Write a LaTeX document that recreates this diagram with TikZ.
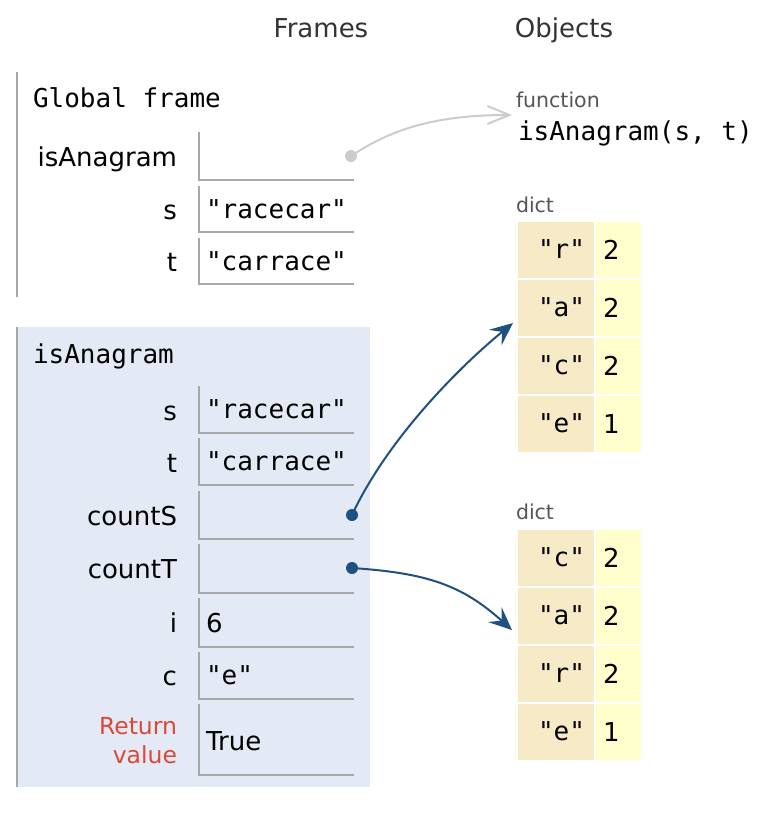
\documentclass[tikz,border=0pt]{standalone}
\usepackage{fontspec}
\setmainfont{DejaVu Sans}
\setsansfont{DejaVu Sans}
\setmonofont{DejaVu Sans Mono}
\usetikzlibrary{arrows.meta}
\definecolor{framebg}{RGB}{228,234,245}
\definecolor{gridgray}{RGB}{168,168,168}
\definecolor{keybg}{RGB}{246,235,198}
\definecolor{valbg}{RGB}{255,255,206}
\definecolor{ptblue}{RGB}{31,80,127}
\definecolor{retred}{RGB}{218,72,58}
\definecolor{typegray}{RGB}{85,85,85}
\definecolor{ptrgray}{RGB}{204,204,204}
\definecolor{headgray}{RGB}{51,51,51}
\begin{document}
\begin{tikzpicture}[x=1pt,y=-1pt,
  every node/.style={inner sep=0pt, outer sep=0pt},
  sanstxt/.style={font=\fontsize{26}{30}\selectfont},
  monotxt/.style={font=\fontsize{26}{30}\selectfont\ttfamily},
  header/.style={sanstxt, text=headgray, anchor=base},
  varname/.style={sanstxt, anchor=base east},
  strval/.style={monotxt, anchor=base west},
  numval/.style={sanstxt, anchor=base west},
  typelbl/.style={font=\fontsize{20.5}{24}\selectfont, text=typegray, anchor=base west},
  retlbl/.style={font=\fontsize{23.5}{27}\selectfont, text=retred, anchor=base east},
  cellline/.style={draw=gridgray, line width=2pt},
  frameline/.style={draw=gridgray, line width=2pt},
  keycell/.style={fill=keybg, minimum width=76pt, minimum height=56pt, anchor=north west},
  valcell/.style={fill=valbg, minimum width=45pt, minimum height=56pt, anchor=north west},
  keytxt/.style={monotxt, anchor=base east},
  bluedot/.style={circle, fill=ptblue, minimum size=12pt},
  graydot/.style={circle, fill=ptrgray, minimum size=12pt},
  bluearrow/.style={draw=ptblue, line width=2pt, -{Stealth[length=23pt,width=20pt,inset=9pt]}},
  grayarrow/.style={draw=ptrgray, line width=2pt, -{Straight Barb[length=22pt,width=18pt]}}
]
\useasboundingbox[fill=white] (0,0) rectangle (774,828);

% headers
\node[header] (hFrames) at (321,37) {Frames};
\node[header] (hObjects) at (564,37) {Objects};

% ---------------- Global frame ----------------
\draw[frameline] (17,72) -- (17,297);
\node[monotxt, anchor=base west] (gTitle) at (33,107) {Global frame};

\draw[cellline] (199,132) -- (199,180) -- (354,180);
\draw[cellline] (199,186) -- (199,232) -- (354,232);
\draw[cellline] (199,238) -- (199,284) -- (354,284);

\node[varname] (gIsA) at (177,166) {isAnagram};
\node[varname] (gS) at (177,219) {s};
\node[varname] (gT) at (177,271) {t};
\node[strval] (gSv) at (206,218) {"racecar"};
\node[strval] (gTv) at (206,270) {"carrace"};

% ---------------- isAnagram frame ----------------
\fill[framebg] (17,327) rectangle (370,787);
\draw[frameline] (17,327) -- (17,787);
\node[monotxt, anchor=base west] (fTitle) at (33,363) {isAnagram};

\draw[cellline] (199,386) -- (199,433) -- (354,433);
\draw[cellline] (199,438) -- (199,485) -- (354,485);
\draw[cellline] (199,491) -- (199,539) -- (354,539);
\draw[cellline] (199,544) -- (199,593) -- (354,593);
\draw[cellline] (199,598) -- (199,647) -- (354,647);
\draw[cellline] (199,652) -- (199,699) -- (354,699);
\draw[cellline] (199,704) -- (199,775) -- (354,775);

\node[varname] (fS) at (177,420) {s};
\node[varname] (fT) at (177,472) {t};
\node[varname] (fCS) at (177,525) {countS};
\node[varname] (fCT) at (177,578) {countT};
\node[varname] (fI) at (177,632) {i};
\node[varname] (fC) at (177,685) {c};
\node[retlbl] (fRet1) at (177,734) {Return};
\node[retlbl] (fRet2) at (177,763) {value};

\node[strval] (fSv) at (206,418) {"racecar"};
\node[strval] (fTv) at (206,470) {"carrace"};
\node[numval] (fIv) at (206,632) {6};
\node[strval] (fCv) at (206,684) {"e"};
\node[numval] (fRv) at (206,750) {True};

% ---------------- Objects ----------------
\node[typelbl] (fnType) at (516,107) {function};
\node[monotxt, anchor=base west] (fnName) at (518,140) {isAnagram(s, t)};
\coordinate (fnIn) at (512,115);

% dict 1
\node[typelbl] (d1Type) at (516,212) {dict};
\foreach \i/\k/\v [count=\n from 0] in {1/r/2,2/a/2,3/c/2,4/e/1}{
  \node[keycell] (d1k\i) at (518,{222+58*\n}) {};
  \node[valcell] (d1v\i) at (596,{222+58*\n}) {};
  \node[keytxt] (d1kt\i) at (585,{258+58*\n}) {"\k"};
  \node[numval] (d1vt\i) at (603,{259+58*\n}) {\v};
}
\coordinate (d1In) at (513,323);

% dict 2
\node[typelbl] (d2Type) at (516,519) {dict};
\foreach \i/\k/\v [count=\n from 0] in {1/c/2,2/a/2,3/r/2,4/e/1}{
  \node[keycell] (d2k\i) at (518,{530+58*\n}) {};
  \node[valcell] (d2v\i) at (596,{530+58*\n}) {};
  \node[keytxt] (d2kt\i) at (585,{566+58*\n}) {"\k"};
  \node[numval] (d2vt\i) at (603,{567+58*\n}) {\v};
}
\coordinate (d2In) at (512,630);

% ---------------- pointers ----------------
\coordinate (gStart) at (351,156);
\coordinate (csStart) at (352,515);
\coordinate (ctStart) at (352,568);
\draw[grayarrow] (gStart) .. controls +(45,-30) and +(-70,0) .. (fnIn);
\draw[bluearrow] (csStart) .. controls +(35,-75) and +(-55,45) .. (d1In);
\draw[bluearrow] (ctStart) .. controls +(75,5) and +(-50,-45) .. (d2In);
\node[graydot] (gDot) at (gStart) {};
\node[bluedot] (csDot) at (csStart) {};
\node[bluedot] (ctDot) at (ctStart) {};
\end{tikzpicture}
\end{document}
